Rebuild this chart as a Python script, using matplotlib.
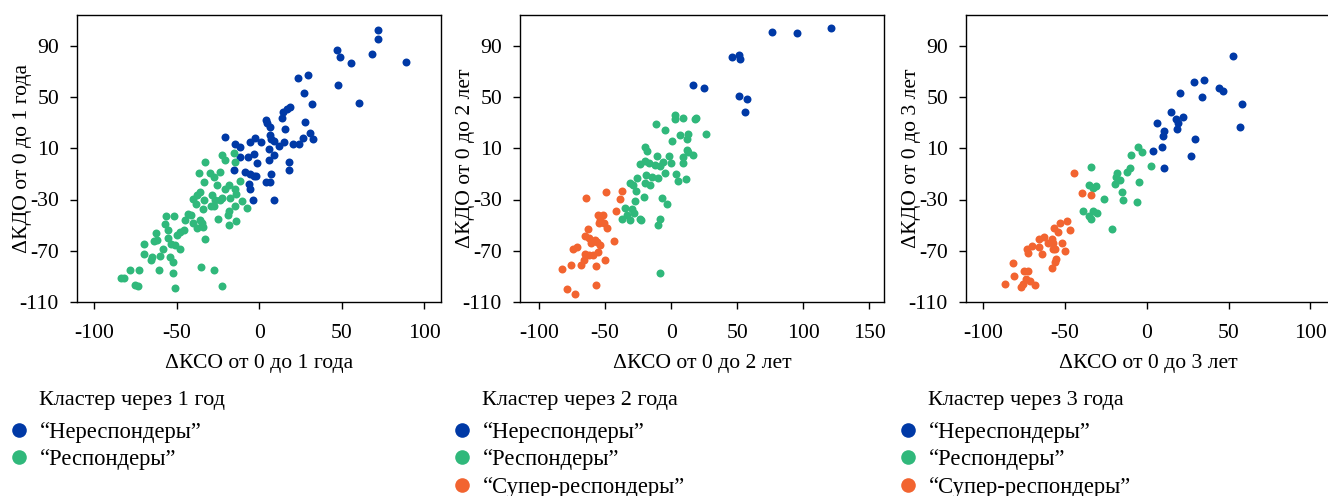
import matplotlib
matplotlib.use("Agg")
import matplotlib.pyplot as plt
import numpy as np
from matplotlib.lines import Line2D

plt.rcParams["font.family"] = ["Liberation Serif", "DejaVu Serif"]
plt.rcParams["font.size"] = 15.6
plt.rcParams["axes.unicode_minus"] = False

BLUE = "#0039a6"
GREEN = "#30b87b"
ORANGE = "#f26430"

# --- panel 1: 0 -> 1 year ---
p1_non_x = [72.1, 72.1, 47.1, 49.1, 55.2, 67.9, 88.9, 47.7, 60.2, 23.4, 29.3, 26.9, 31.9, 18.8, 16.8,
            14.3, 13.9, 4.2, 4.6, 6.3, 15.8, 27.9, 30.9, 32.5, 26.5, 20.4, 24.2, 14.7, 11.9, 6.3,
            7.1, 8.7, 5.7, 1.0, -2.4, -5.5, -20.6, -14.9, -11.5, -3.4, -7.1, -11.9, -1.4, 8.7, 5.7,
            17.8, 17.8, 7.1, 4.2, 6.3, -8.5, -5.5, -3.4, -1.8, -6.5, -5.5, -4.0, 9.1, -15.6]
p1_non_y = [102.5, 95.5, 86.6, 80.9, 76.2, 83.8, 77.2, 59.5, 45.0, 64.7, 66.8, 52.8, 44.2, 42.1, 40.3,
            38.2, 33.8, 31.9, 29.8, 26.2, 25.2, 30.4, 22.0, 17.6, 17.9, 13.2, 13.2, 15.0, 11.9, 20.2,
            17.6, 15.8, 9.8, 15.0, 18.1, 15.0, 18.9, 13.2, 11.1, 5.9, 2.8, 3.3, -1.9, 4.6, 1.2,
            -1.1, -7.1, -10.3, -16.3, -16.3, -8.4, -10.3, -11.8, -11.8, -17.6, -21.5, -30.1, -30.6, -6.6]
p1_resp_x = [-22.8, -21.0, -15.2, -14.9, -32.9, -36.8, -29.7, -24.0, -33.7, -27.7, -25.7, -18.6, -20.6,
             -11.9, -14.9, -13.9, -35.8, -37.8, -28.7, -26.7, -22.6, -17.6, -40.4, -38.2, -33.3, -29.3,
             -27.3, -23.6, -34.1, -10.3, -7.5, -14.9, -18.4, -19.0, -24.8, -13.9, -18.6, -43.4, -41.4,
             -44.8, -40.4, -36.2, -34.7, -37.8, -34.1, -45.9, -47.9, -49.9, -33.1, -51.9, -56.6, -57.4,
             -55.6, -62.8, -62.0, -63.6, -55.6, -53.5, -51.3, -47.9, -58.4, -69.7, -69.7, -65.1, -60.4,
             -54.3, -65.5, -52.3, -61.0, -73.1, -78.6, -52.3, -83.6, -82.2, -75.2, -73.7, -51.3, -35.4,
             -27.7, -22.4]
p1_resp_y = [4.6, 1.2, 6.4, -1.1, -0.9, -9.2, -9.7, -8.4, -16.3, -12.3, -18.9, -18.9, -21.5,
             -15.2, -21.5, -25.4, -24.1, -26.6, -26.1, -30.3, -29.0, -29.0, -29.5, -33.2, -30.6, -35.3,
             -35.3, -30.6, -37.6, -31.1, -36.3, -35.3, -38.9, -41.8, -45.4, -46.7, -49.6, -41.5, -42.3,
             -46.2, -48.3, -45.7, -48.3, -52.2, -51.4, -53.5, -55.3, -57.9, -60.8, -43.1, -43.1, -49.3,
             -53.5, -56.1, -61.8, -62.3, -60.0, -64.4, -65.7, -68.3, -68.3, -64.4, -72.2, -74.8, -74.0,
             -74.8, -77.4, -79.0, -85.3, -85.3, -84.7, -87.1, -91.3, -91.3, -97.0, -97.5, -98.8, -82.7,
             -84.7, -97.2]

# --- panel 2: 0 -> 2 years ---
p2_non_x = [76.1, 95.1, 121.1, 46.3, 51.3, 52.1, 16.4, 24.8, 51.3, 57.7, 55.9]
p2_non_y = [100.7, 99.6, 103.5, 81.4, 82.7, 79.3, 59.0, 56.9, 50.7, 48.1, 38.2]
p2_resp_x = [2.8, 2.8, 8.9, 18.5, 17.7, -11.6, -4.8, 6.6, 12.9, 26.0, 12.1, 0.8, -20.2, -18.2, 11.6,
             12.6, -10.6, -1.8, 8.9, 16.7, -20.2, -23.8, -16.9, -11.9, -8.1, -6.1, -0.5, 8.9, -4.8,
             3.3, -18.7, -14.2, -25.8, -20.2, -15.7, -10.1, 5.3, 10.9, -30.9, -28.8, -26.3, -20.7,
             -27.6, -6.8, -3.5, -35.2, -29.6, -27.8, -33.4, -37.2, -30.9, -23.3, -22.5, -8.1, -9.9, -8.1]
p2_resp_y = [35.8, 32.7, 34.0, 34.0, 33.0, 28.8, 24.6, 20.7, 21.5, 21.5, 17.1, 15.3, 10.8, 8.0, 9.0,
             7.2, 3.8, 4.3, 3.3, 4.6, 0.4, -2.4, -1.4, -2.7, -3.5, -0.4, -1.9, -1.9, -9.2,
             -10.3, -10.5, -12.3, -13.6, -17.0, -18.9, -13.6, -15.7, -14.2, -17.0, -18.9, -23.3, -28.0,
             -31.1, -28.8, -33.2, -36.6, -37.6, -40.2, -42.3, -44.9, -46.2, -44.9, -46.2, -44.9, -50.1, -87.1]
p2_super_x = [-64.5, -49.1, -37.2, -38.4, -41.7, -55.4, -51.9, -53.6, -51.1, -48.6, -54.9, -63.0, -65.0,
              -62.5, -57.4, -56.2, -53.6, -60.7, -43.5, -74.4, -71.3, -65.5, -62.0, -59.2, -55.6, -66.3,
              -50.3, -75.6, -68.0, -56.9, -82.7, -56.9, -78.9, -72.8]
p2_super_y = [-28.8, -24.3, -23.3, -29.8, -38.9, -41.8, -41.8, -46.2, -48.0, -51.9, -48.3, -53.0, -58.4,
              -59.7, -61.3, -63.1, -65.2, -63.9, -62.3, -68.9, -67.0, -72.2, -73.0, -73.5, -70.7, -77.4,
              -77.4, -81.4, -81.4, -81.9, -84.0, -96.7, -99.8, -103.8]

# --- panel 3: 0 -> 3 years ---
p3_non_x = [52.4, 29.0, 35.1, 44.3, 46.3, 20.0, 33.5, 58.2, 14.7, 22.4, 17.8, 19.0, 18.4, 6.1, 10.4,
            9.6, 56.7, 29.6, 3.7, 9.2, 27.3, 10.4]
p3_non_y = [82.2, 61.6, 62.9, 57.2, 54.6, 52.8, 49.9, 44.4, 38.4, 34.5, 32.7, 29.8, 25.2, 29.6, 23.3,
            19.7, 26.7, 17.6, 8.2, 11.1, 3.8, -5.1]
p3_resp_x = [-5.5, -2.7, -10.0, -34.1, 2.4, -10.6, -12.2, -18.4, -18.8, -16.3, -19.4, -4.5, -35.1,
             -33.1, -31.0, -15.5, -26.5, -14.3, -6.3, -38.8, -32.7, -30.6, -35.1, -34.3, -21.6]
p3_resp_y = [10.6, 7.2, 4.8, -4.8, -4.0, -5.3, -8.7, -9.2, -12.3, -14.9, -18.0, -16.3, -18.6,
             -21.4, -19.4, -24.3, -29.8, -30.6, -31.9, -39.2, -38.9, -40.5, -43.1, -44.9, -52.7]
p3_super_x = [-44.7, -39.4, -34.3, -48.6, -53.1, -47.3, -56.5, -54.5, -62.7, -66.1, -57.8, -60.2, -70.4,
              -65.7, -57.1, -51.6, -73.5, -72.9, -64.3, -57.1, -56.1, -50.0, -55.7, -56.3, -58.0, -81.8,
              -81.2, -74.9, -72.9, -74.1, -71.4, -68.2, -86.5, -77.1, -75.5]
p3_super_y = [-9.0, -24.6, -26.4, -47.0, -48.3, -53.5, -51.9, -55.0, -59.2, -61.0, -61.0, -63.6, -66.2,
              -66.9, -63.6, -63.6, -68.3, -71.4, -72.2, -68.3, -68.8, -70.4, -76.4, -78.8, -83.4, -79.3,
              -89.4, -85.8, -85.8, -91.8, -93.9, -96.5, -95.9, -98.3, -95.7]

labels = ["\u201cНереспондеры\u201d", "\u201cРеспондеры\u201d", "\u201cСупер-респондеры\u201d"]
colors = [BLUE, GREEN, ORANGE]

panels = [
    dict(series=[(p1_non_x, p1_non_y), (p1_resp_x, p1_resp_y)],
         xlim=(-110.5, 110), xticks=[-100, -50, 0, 50, 100],
         xlabel="ΔКСО от 0 до 1 года", ylabel="ΔКДО от 0 до 1 года",
         title="Кластер через 1 год", left=77),
    dict(series=[(p2_non_x, p2_non_y), (p2_resp_x, p2_resp_y), (p2_super_x, p2_super_y)],
         xlim=(-114.4, 161), xticks=[-100, -50, 0, 50, 100, 150],
         xlabel="ΔКСО от 0 до 2 лет", ylabel="ΔКДО от 0 до 2 лет",
         title="Кластер через 2 года", left=520),
    dict(series=[(p3_non_x, p3_non_y), (p3_resp_x, p3_resp_y), (p3_super_x, p3_super_y)],
         xlim=(-110.6, 112), xticks=[-100, -50, 0, 50, 100],
         xlabel="ΔКСО от 0 до 3 лет", ylabel="ΔКДО от 0 до 3 лет",
         title="Кластер через 3 года", left=966),
]

W, H = 1328, 496
fig = plt.figure(figsize=(W / 100, H / 100), dpi=100)

for p in panels:
    ax = fig.add_axes([p["left"] / W, 1 - 302 / H, 364 / W, 287 / H])
    for (xs, ys), c in zip(p["series"], colors):
        ax.scatter(xs, ys, s=33, color=c, linewidths=0, zorder=3)
    ax.set_xlim(*p["xlim"])
    ax.set_ylim(-110, 114)
    ax.set_xticks(p["xticks"])
    ax.set_yticks([-110, -70, -30, 10, 50, 90])
    ax.tick_params(direction="out", length=5, width=1)
    ax.tick_params(axis="x", pad=11)
    ax.tick_params(axis="y", pad=8)
    for sp in ax.spines.values():
        sp.set_linewidth(1)
    ax.set_xlabel(p["xlabel"], labelpad=8)
    ax.set_ylabel(p["ylabel"])
    ax.yaxis.set_label_coords(-0.124, 0.5)

    n = len(p["series"])
    handles = [Line2D([], [], ls="none", marker="o", ms=10.5, mew=0, color=colors[i]) for i in range(n)]
    x0 = (p["left"] - 77) / W
    fig.text(x0 + 39 / W, 1 - 401 / H, p["title"], ha="left", va="center", fontsize=16)
    fig.legend(handles, labels[:n], loc="upper left",
               bbox_to_anchor=(x0 + 8 / W, 1 - 422 / H), frameon=False, fontsize=16.3,
               handlelength=1.0, handletextpad=0.4, labelspacing=0.28,
               borderaxespad=0, borderpad=0)

fig.savefig("out.png", dpi=100)
